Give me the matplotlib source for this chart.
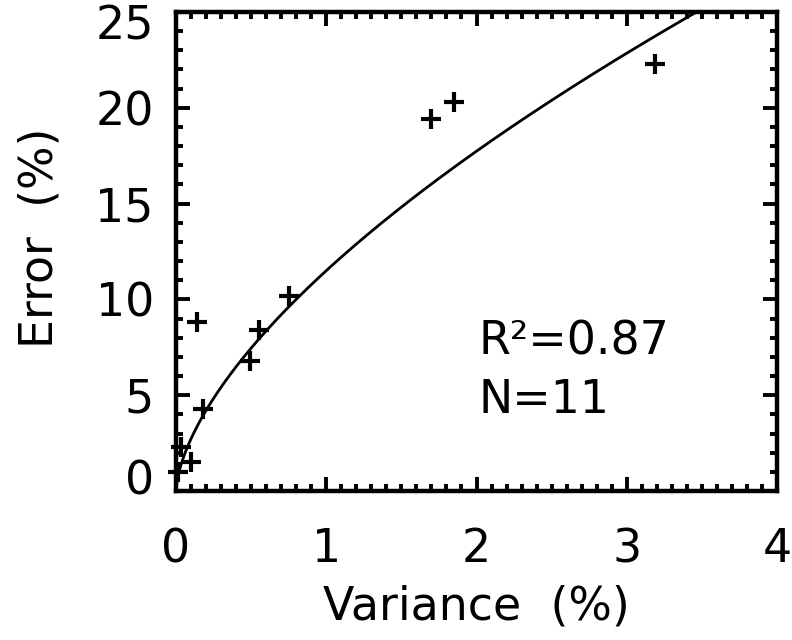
import numpy as np
import matplotlib
matplotlib.use("Agg")
import matplotlib.pyplot as plt
import matplotlib.transforms as mtransforms
from matplotlib.ticker import MultipleLocator, FixedLocator

plt.rcParams['font.family'] = 'DejaVu Sans'

# data
variance = [0.01, 0.03, 0.10, 0.14, 0.18, 0.49, 0.55, 0.75, 1.70, 1.85, 3.19]
error = [1.0, 2.3, 1.5, 8.8, 4.3, 6.8, 8.4, 10.2, 19.4, 20.3, 22.3]

# power law fit  error = a * variance^b
fit_a = 11.5
fit_b = 0.625
r2_text = "R²=0.87"
n_text = "N=11"

x_major = [0, 1, 2, 3, 4]
y_major = [0, 5, 10, 15, 20, 25]

fs = 33

fig = plt.figure(figsize=(7.92, 6.4), dpi=100)
ax = fig.add_axes([176 / 792, 1 - 491 / 640, (777 - 176) / 792, (491 - 12) / 640])

xs = np.linspace(0.001, 4, 400)
ax.plot(xs, fit_a * xs ** fit_b, color='black', lw=2.0)
ax.plot(variance, error, linestyle='none', marker='+', color='black',
        markersize=15, markeredgewidth=3.0, clip_on=False)

ax.set_xlim(0, 4)
ax.set_ylim(0, 25)
ax.xaxis.set_major_locator(FixedLocator(x_major))
ax.xaxis.set_minor_locator(MultipleLocator(0.1))
ax.yaxis.set_major_locator(FixedLocator(y_major))
ax.yaxis.set_minor_locator(MultipleLocator(1))

for s in ax.spines.values():
    s.set_linewidth(3.2)
ax.tick_params(which='both', direction='in', top=True, right=True, width=2.8)
ax.tick_params(which='major', length=10)
ax.tick_params(which='minor', length=5)
ax.tick_params(axis='x', which='major', pad=26, labelsize=fs)
ax.tick_params(axis='y', which='major', pad=16, labelsize=fs)

# keep end labels inside the axis range like the original
yticks = ax.yaxis.get_major_ticks(len(y_major))
lab0 = yticks[0].label1
lab0.set_transform(lab0.get_transform() +
                   mtransforms.ScaledTranslation(0, 0.14, fig.dpi_scale_trans))
lab1 = yticks[-1].label1
lab1.set_transform(lab1.get_transform() +
                   mtransforms.ScaledTranslation(0, -0.10, fig.dpi_scale_trans))

ax.text(2.01, 7.76, r2_text, fontsize=fs, va='center', ha='left')
ax.text(2.01, 4.74, n_text, fontsize=fs, va='center', ha='left')

fig.text(476 / 792, 1 - 607 / 640, "Variance  (%)", fontsize=fs, ha='center', va='center')
fig.text(40 / 792, 1 - 238 / 640, "Error  (%)", fontsize=fs, ha='center', va='center',
         rotation=90)

fig.savefig("out.png", dpi=100)
